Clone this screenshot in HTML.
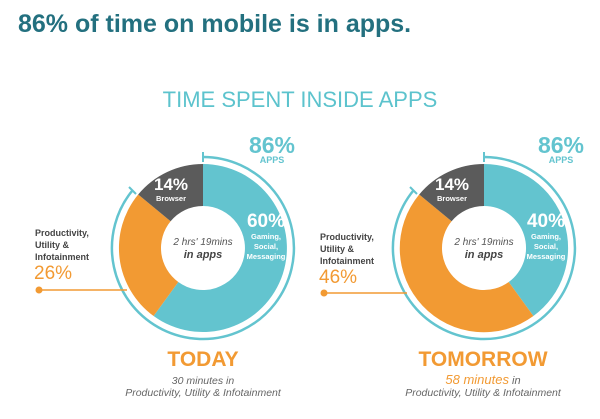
<!DOCTYPE html>
<html><head><style>
body{margin:0;width:600px;height:414px;background:#fff;overflow:hidden;font-family:"Liberation Sans",sans-serif}
</style></head><body>
<svg width="600" height="414" viewBox="0 0 600 414" xmlns="http://www.w3.org/2000/svg" font-family="Liberation Sans, sans-serif">
<text x="18" y="32" font-size="25" font-weight="bold" fill="#23707f">86% of time on mobile is in apps.</text>
<text x="300" y="107" font-size="22" fill="#5cc3cd" text-anchor="middle">TIME SPENT INSIDE APPS</text>
<!-- LEFT -->
<g transform="translate(203,248)">
 <path d="M0,-84 A84,84 0 1 1 -49.4,68 L-24.7,34 A42,42 0 1 0 0,-42Z" fill="#63c4cf"/>
 <path d="M-49.4,68 A84,84 0 0 1 -64.8,-53.5 L-32.4,-26.7 A42,42 0 0 0 -24.7,34Z" fill="#f29a33"/>
 <path d="M-64.8,-53.5 A84,84 0 0 1 0,-84 L0,-42 A42,42 0 0 0 -32.4,-26.7Z" fill="#5b5b5b"/>
 <path d="M0,-91 A91,91 0 1 1 -70.2,-58" fill="none" stroke="#63c4cf" stroke-width="2.5"/>
 <line x1="0" y1="-96" x2="0" y2="-86" stroke="#63c4cf" stroke-width="2"/>
 <line x1="-74" y1="-61" x2="-67" y2="-54" stroke="#63c4cf" stroke-width="2"/>
 <text x="-32" y="-58" font-size="17" font-weight="bold" fill="#fff" text-anchor="middle">14%</text>
 <text x="-32" y="-47" font-size="7.5" font-weight="bold" fill="#fff" text-anchor="middle">Browser</text>
 <text x="63" y="-21" font-size="19" font-weight="bold" fill="#fff" text-anchor="middle">60%</text>
 <text x="63" y="-9" font-size="7.5" font-weight="bold" fill="#fff" text-anchor="middle">Gaming,</text>
 <text x="63" y="1" font-size="7.5" font-weight="bold" fill="#fff" text-anchor="middle">Social,</text>
 <text x="63" y="11" font-size="7.5" font-weight="bold" fill="#fff" text-anchor="middle">Messaging</text>
 <text x="0" y="-3" font-size="10" font-style="italic" fill="#555" text-anchor="middle">2 hrs' 19mins</text>
 <text x="0" y="10" font-size="11" font-style="italic" font-weight="bold" fill="#444" text-anchor="middle">in apps</text>
</g>
<text x="272" y="153" font-size="23" font-weight="bold" fill="#63c4cf" text-anchor="middle">86%</text>
<text x="272" y="163" font-size="9" font-weight="bold" fill="#63c4cf" text-anchor="middle">APPS</text>
<text x="35" y="236" font-size="9" font-weight="bold" fill="#444">Productivity,</text>
<text x="35" y="248" font-size="9" font-weight="bold" fill="#444">Utility &amp;</text>
<text x="35" y="260" font-size="9" font-weight="bold" fill="#444">Infotainment</text>
<text x="34" y="279" font-size="19" fill="#f29a33">26%</text>
<circle cx="39" cy="290" r="3.5" fill="#f29a33"/>
<line x1="39" y1="290" x2="127" y2="290" stroke="#f29a33" stroke-width="1.5"/>
<text x="203" y="366" font-size="21" font-weight="bold" fill="#f29a33" text-anchor="middle">TODAY</text>
<text x="203" y="384" font-size="10.5" font-style="italic" fill="#666" text-anchor="middle">30 minutes in</text>
<text x="203" y="396" font-size="10.5" font-style="italic" fill="#666" text-anchor="middle">Productivity, Utility &amp; Infotainment</text>
<!-- RIGHT -->
<g transform="translate(484,248)">
 <path d="M0,-84 A84,84 0 0 1 49.4,68 L24.7,34 A42,42 0 0 0 0,-42Z" fill="#63c4cf"/>
 <path d="M49.4,68 A84,84 0 0 1 -64.8,-53.5 L-32.4,-26.7 A42,42 0 0 0 24.7,34Z" fill="#f29a33"/>
 <path d="M-64.8,-53.5 A84,84 0 0 1 0,-84 L0,-42 A42,42 0 0 0 -32.4,-26.7Z" fill="#5b5b5b"/>
 <path d="M0,-91 A91,91 0 1 1 -70.2,-58" fill="none" stroke="#63c4cf" stroke-width="2.5"/>
 <line x1="0" y1="-96" x2="0" y2="-86" stroke="#63c4cf" stroke-width="2"/>
 <line x1="-74" y1="-61" x2="-67" y2="-54" stroke="#63c4cf" stroke-width="2"/>
 <text x="-32" y="-58" font-size="17" font-weight="bold" fill="#fff" text-anchor="middle">14%</text>
 <text x="-32" y="-47" font-size="7.5" font-weight="bold" fill="#fff" text-anchor="middle">Browser</text>
 <text x="62" y="-21" font-size="19" font-weight="bold" fill="#fff" text-anchor="middle">40%</text>
 <text x="62" y="-9" font-size="7.5" font-weight="bold" fill="#fff" text-anchor="middle">Gaming,</text>
 <text x="62" y="1" font-size="7.5" font-weight="bold" fill="#fff" text-anchor="middle">Social,</text>
 <text x="62" y="11" font-size="7.5" font-weight="bold" fill="#fff" text-anchor="middle">Messaging</text>
 <text x="0" y="-3" font-size="10" font-style="italic" fill="#555" text-anchor="middle">2 hrs' 19mins</text>
 <text x="0" y="10" font-size="11" font-style="italic" font-weight="bold" fill="#444" text-anchor="middle">in apps</text>
</g>
<text x="561" y="153" font-size="23" font-weight="bold" fill="#63c4cf" text-anchor="middle">86%</text>
<text x="561" y="163" font-size="9" font-weight="bold" fill="#63c4cf" text-anchor="middle">APPS</text>
<text x="320" y="240" font-size="9" font-weight="bold" fill="#444">Productivity,</text>
<text x="320" y="252" font-size="9" font-weight="bold" fill="#444">Utility &amp;</text>
<text x="320" y="264" font-size="9" font-weight="bold" fill="#444">Infotainment</text>
<text x="319" y="283" font-size="19" fill="#f29a33">46%</text>
<circle cx="324" cy="293" r="3.5" fill="#f29a33"/>
<line x1="324" y1="293" x2="407" y2="293" stroke="#f29a33" stroke-width="1.5"/>
<text x="483" y="366" font-size="21" font-weight="bold" fill="#f29a33" text-anchor="middle">TOMORROW</text>
<text x="483" y="384" font-size="11" font-style="italic" text-anchor="middle"><tspan fill="#f29a33" font-size="13">58 minutes</tspan><tspan fill="#666"> in</tspan></text>
<text x="483" y="396" font-size="10.5" font-style="italic" fill="#666" text-anchor="middle">Productivity, Utility &amp; Infotainment</text>
</svg>
</body></html>
